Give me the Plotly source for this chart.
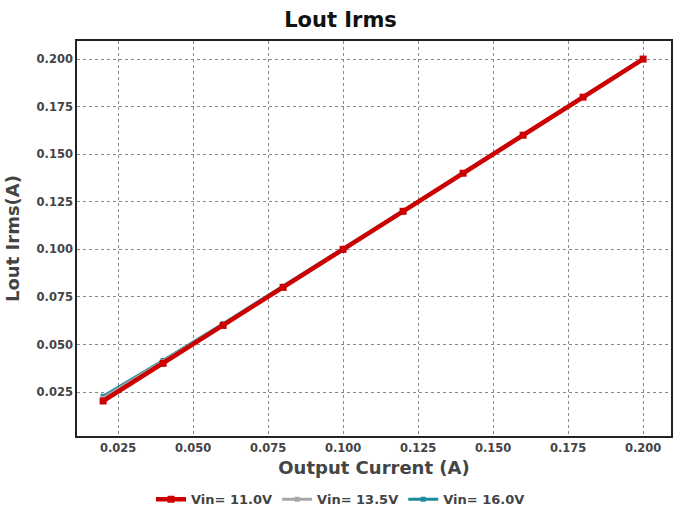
import plotly.graph_objects as go

x_current = [0.02, 0.04, 0.06, 0.08, 0.10, 0.12, 0.14, 0.16, 0.18, 0.20]
vin_11_0 = [0.0203, 0.0401, 0.0600, 0.0800, 0.1000, 0.1200, 0.1400, 0.1600, 0.1800, 0.2000]
vin_13_5 = [0.0218, 0.0410, 0.0605, 0.0803, 0.1002, 0.1201, 0.1401, 0.1601, 0.1800, 0.2000]
vin_16_0 = [0.0228, 0.0416, 0.0609, 0.0806, 0.1004, 0.1203, 0.1402, 0.1601, 0.1801, 0.2001]
x_ticks = [0.025, 0.050, 0.075, 0.100, 0.125, 0.150, 0.175, 0.200]
y_ticks = [0.025, 0.050, 0.075, 0.100, 0.125, 0.150, 0.175, 0.200]

series = [
    ("<b>Vin= 16.0V</b>", vin_16_0, "#1C8C9C", 3, 5, 3),
    ("<b>Vin= 13.5V</b>", vin_13_5, "#A8A8A8", 3, 5, 2),
    ("<b>Vin= 11.0V</b>", vin_11_0, "#CC0000", 4.5, 7, 1),
]

fig = go.Figure()
for name, ys, color, lw, ms, rank in series:
    fig.add_trace(go.Scatter(
        x=x_current, y=ys, mode="lines+markers", name=name,
        line=dict(color=color, width=lw),
        marker=dict(symbol="square", size=ms, color=color),
        legendrank=rank,
    ))

font_family = "DejaVu Sans, Verdana, sans-serif"
fig.update_layout(
    width=681, height=515,
    paper_bgcolor="white", plot_bgcolor="white",
    margin=dict(l=77, r=10, t=41, b=79, autoexpand=False),
    title=dict(text="<b>Lout Irms</b>", x=0.5, xanchor="center", y=0.962, yanchor="middle",
               font=dict(family=font_family, size=21, color="#111111")),
    font=dict(family=font_family, color="#444444"),
    showlegend=True,
    legend=dict(orientation="h", xref="container", x=0.5, xanchor="center", y=-0.16, yanchor="middle",
                font=dict(family=font_family, size=13, color="#444444"),
                itemwidth=30, tracegroupgap=0, traceorder="normal"),
)
fig.update_xaxes(
    range=[0.0113, 0.2093], tickvals=x_ticks, ticktext=[f"<b>{v:.3f}</b>" for v in x_ticks],
    tickfont=dict(size=11.5, color="#444444"), automargin=False,
    title=dict(text="<b>Output Current (A)</b>", font=dict(size=18, color="#444444"), standoff=8),
    showgrid=True, gridcolor="#888888", griddash="dot", gridwidth=1,
    showline=True, linecolor="#222222", linewidth=1.5, mirror=True,
    zeroline=False, ticks="",
)
fig.update_yaxes(
    range=[0.0019, 0.2095], tickvals=y_ticks, ticktext=[f"<b>{v:.3f}</b>" for v in y_ticks],
    tickfont=dict(size=11.5, color="#444444"), automargin=False,
    title=dict(text="<b>Lout Irms(A)</b>", font=dict(size=18, color="#444444"), standoff=12),
    showgrid=True, gridcolor="#888888", griddash="dot", gridwidth=1,
    showline=True, linecolor="#222222", linewidth=1.5, mirror=True,
    zeroline=False, ticks="",
)

fig.write_html("out.html", config={"displayModeBar": False},
               post_script="document.body.style.margin='0';")
